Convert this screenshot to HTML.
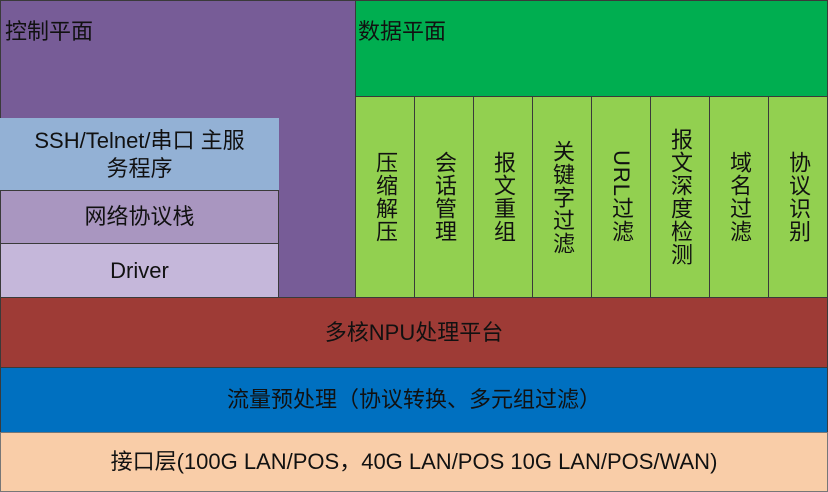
<!DOCTYPE html>
<html><head><meta charset="utf-8"><style>
body{margin:0;width:828px;height:492px;overflow:hidden;background:#fff;font-family:"Liberation Sans","Noto Sans CJK SC",sans-serif;color:#111}
div.b{position:absolute;box-sizing:border-box;border:1px solid #3a3a3a}
.c{display:flex;align-items:center;justify-content:center;text-align:center;font-size:22px;line-height:28px}
.v{writing-mode:vertical-rl;letter-spacing:1px}
</style></head><body>
<div class="b" style="left:0;top:0;width:356px;height:298px;background:#775C97"></div>
<div style="position:absolute;left:5px;top:14px;font-size:22px">控制平面</div>
<div class="b" style="left:355px;top:0;width:473px;height:97px;background:#00AE50"></div>
<div style="position:absolute;left:358px;top:14px;font-size:22px">数据平面</div>
<div class="b c" style="left:0;top:118px;width:279px;height:73px;background:#93B1D5;border-color:#93B1D5;border-bottom-color:#555">SSH/Telnet/串口 主服<br>务程序</div>
<div class="b c" style="left:0;top:190px;width:279px;height:54px;background:#A996C0">网络协议栈</div>
<div class="b c" style="left:0;top:243px;width:279px;height:55px;background:#C5B7DA">Driver</div>
<div class="b c" style="left:355px;top:96px;width:60px;height:202px;background:#92D050"><span class="v">压缩解压</span></div>
<div class="b c" style="left:414px;top:96px;width:60px;height:202px;background:#92D050"><span class="v">会话管理</span></div>
<div class="b c" style="left:473px;top:96px;width:60px;height:202px;background:#92D050"><span class="v">报文重组</span></div>
<div class="b c" style="left:532px;top:96px;width:60px;height:202px;background:#92D050"><span class="v">关键字过滤</span></div>
<div class="b c" style="left:591px;top:96px;width:60px;height:202px;background:#92D050"><span class="v">URL过滤</span></div>
<div class="b c" style="left:650px;top:96px;width:60px;height:202px;background:#92D050"><span class="v">报文深度检测</span></div>
<div class="b c" style="left:709px;top:96px;width:60px;height:202px;background:#92D050"><span class="v">域名过滤</span></div>
<div class="b c" style="left:768px;top:96px;width:60px;height:202px;background:#92D050"><span class="v">协议识别</span></div>
<div class="b c" style="left:0;top:297px;width:828px;height:71px;background:#9E3B36">多核NPU处理平台</div>
<div class="b c" style="left:0;top:367px;width:828px;height:66px;background:#0070C0">流量预处理（协议转换、多元组过滤）</div>
<div class="b c" style="left:0;top:432px;width:828px;height:60px;background:#F9CDA8;border-color:#777">接口层(100G LAN/POS，40G LAN/POS 10G LAN/POS/WAN)</div>
</body></html>
